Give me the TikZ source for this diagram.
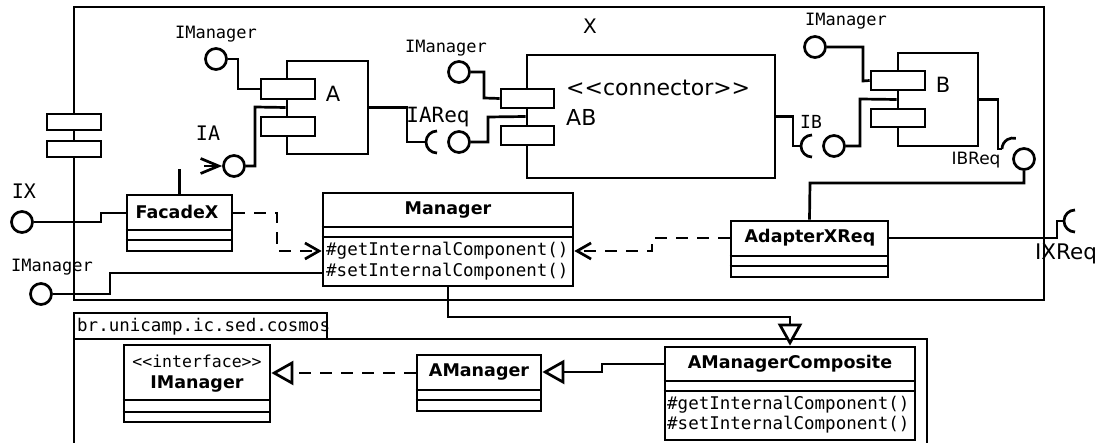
\documentclass[tikz,border=0pt]{standalone}
\usepackage{fontspec}
\setmainfont{DejaVu Sans}
\newfontfamily\umlmono{DejaVu Sans Mono}
\usetikzlibrary{arrows.meta,fit}

\tikzset{
  ln/.style={line width=2.7pt},
  dsh/.style={line width=2.7pt, dash pattern=on 12pt off 9pt},
  box/.style={draw, line width=2.7pt, fill=white, rectangle, inner sep=0pt},
  ball/.style={draw, line width=2.7pt, fill=white, circle, inner sep=0pt, minimum size=21pt},
  txt/.style={inner sep=0pt},
  lbl/.style={inner sep=0pt, font=\umlmono\fontsize{17}{19}\selectfont},
  big/.style={inner sep=0pt, font=\umlmono\fontsize{20}{22}\selectfont},
  cname/.style={inner sep=0pt, font=\bfseries\fontsize{17.5}{20}\selectfont},
  meth/.style={inner sep=0pt, anchor=west, font=\umlmono\fontsize{17.5}{20}\selectfont},
  dep/.style={-{Straight Barb[length=14pt,width=16pt]}},
  gen/.style={-{Triangle[length=22pt,width=24pt,fill=white]}},
}

\begin{document}
\begin{tikzpicture}[x=1pt,y=-1pt]
\useasboundingbox (0,0) rectangle (1101,443);
\fill[white] (0,0) rectangle (1101,443);
\clip (0,0) rectangle (1101,443);

% ---------- composite component X ----------
\node[box, fit={(74,7) (1044,300)}] (compX) {};
\node[txt, font=\fontsize{20}{22}\selectfont] (lblX) at (590,26) {X};
\node[box, fit={(47,114) (101,130)}] (portX1) {};
\node[box, fit={(47,141) (101,157)}] (portX2) {};

% ---------- component A ----------
\node[box, fit={(287,61) (368,154)}] (compA) {};
\node[box, fit={(261,79) (315,99)}] (portA1) {};
\node[box, fit={(261,117) (315,136)}] (portA2) {};
\node[txt, font=\fontsize{21}{24}\selectfont] (lblA) at (333,94) {A};

% ---------- connector AB ----------
\node[box, fit={(527,55) (775,178)}] (compAB) {};
\node[box, fit={(501,89) (554,108)}] (portAB1) {};
\node[box, fit={(501,126) (554,145)}] (portAB2) {};
\node[txt, anchor=west, font=\fontsize{22}{24}\selectfont] (lblConn) at (566,88) {<{}<connector>{}>};
\node[txt, anchor=west, font=\fontsize{22}{24}\selectfont] (lblAB) at (566,117) {AB};

% ---------- component B ----------
\node[box, fit={(898,53) (978,146)}] (compB) {};
\node[box, fit={(871,71) (925,90)}] (portB1) {};
\node[box, fit={(871,109) (925,127)}] (portB2) {};
\node[txt, font=\fontsize{21}{24}\selectfont] (lblB) at (943,85) {B};

% ---------- provided interfaces (balls) ----------
\node[ball] (ballImA) at (216,59) {};
\node[ball] (ballIA) at (234,166) {};
\node[ball] (ballImAB) at (459,72) {};
\node[ball] (ballIAReq) at (459,142) {};
\node[ball] (ballIB) at (834,146) {};
\node[ball] (ballImB) at (815,47) {};
\node[ball] (ballIBReq) at (1024,159) {};
\node[ball] (ballIX) at (22,222) {};
\node[ball] (ballImX) at (41,294) {};

% ---------- required interfaces (sockets) ----------
\coordinate (sockA) at (426,142);
\coordinate (sockAB) at (801,146);
\coordinate (sockB) at (1002,149);
\coordinate (sockX) at (1064,221);
\draw[ln] (sockA) ++(11,11) arc[start angle=90, end angle=270, radius=11];
\draw[ln] (sockAB) ++(11,11) arc[start angle=90, end angle=270, radius=11];
\draw[ln] (sockB) arc[start angle=180, end angle=285, radius=11];
\draw[ln] (sockX) ++(11,11) arc[start angle=90, end angle=270, radius=11];

% ---------- wiring inside X ----------
\draw[ln] (ballImA.east) -| (238,89) -- (portA1.west);
\draw[ln] (ballIA.east) -| (255,107) -- (compA.west);
\draw[ln] (compA.east) -| (407,142) -- (sockA);
\draw[ln] (ballImAB.east) -| (484,98) -- (portAB1.west);
\draw[ln] (ballIAReq.east) -| (488,117) -- (compAB.west);
\draw[ln] (compAB.east) -| (793,146) -- (sockAB);
\draw[ln] (ballIB.east) -| (860,99) -- (compB.west);
\draw[ln] (ballImB.east) -| (863,81) -- (portB1.west);
\draw[ln] (compB.east) -| (998,149) -- (sockB);

% ---------- interface labels ----------
\node[lbl] (lblImA) at (216,34) {IManager};
\node[big] (lblIA) at (208,133) {IA};
\node[lbl] (lblImAB) at (446,48) {IManager};
\node[txt, font=\umlmono\fontsize{21}{23}\selectfont] (lblIAReq) at (438,117) {IAReq};
\node[txt, font=\umlmono\fontsize{18}{20}\selectfont] (lblIB) at (811,122) {IB};
\node[lbl] (lblImB) at (846,21) {IManager};
\node[txt, font=\fontsize{17}{19}\selectfont] (lblIBReq) at (976,160) {IBReq};
\node[big] (lblIX) at (24,191) {IX};
\node[lbl] (lblImX) at (52,267) {IManager};
\node[txt, font=\fontsize{21.5}{23}\selectfont] (lblIXReq) at (1066,254) {IXReq};

% ---------- classes inside X ----------
\node[box, fit={(127,195) (232,251)}] (facade) {};
\draw[ln] (facade.west |- 0,230) -- (facade.east |- 0,230);
\draw[ln] (facade.west |- 0,240) -- (facade.east |- 0,240);
\node[cname] (nFacade) at (177,212) {FacadeX};

\node[box, fit={(323,193) (573,286)}] (manager) {};
\draw[ln] (manager.west |- 0,227) -- (manager.east |- 0,227);
\draw[ln] (manager.west |- 0,237) -- (manager.east |- 0,237);
\node[cname] (nManager) at (448,210) {Manager};
\node[meth] (mGet) at (326,251) {\#getInternalComponent()};
\node[meth] (mSet) at (326,272) {\#setInternalComponent()};

\node[box, fit={(731,221) (888,277)}] (adapter) {};
\draw[ln] (adapter.west |- 0,256) -- (adapter.east |- 0,256);
\draw[ln] (adapter.west |- 0,266) -- (adapter.east |- 0,266);
\node[cname] (nAdapter) at (810,238) {AdapterXReq};

% ---------- connections of the classes ----------
\coordinate (stubEnd) at (180,169);
\coordinate (iaTail) at (204,166);
\draw[ln] (facade.north) -- (facade.north |- stubEnd);
\draw[ln, -{Straight Barb[length=18pt,width=15pt]}] (iaTail) -- (ballIA.west);
\draw[ln] (ballIX.east) -| (101,213) -- (facade.west |- 0,213);
\draw[ln] (ballImX.east) -| (110,273) -- (manager.west |- 0,273);
\draw[dsh, dep] (facade.east |- 0,213) -| (277,251) -- (manager.west |- 0,251);
\draw[dsh, dep] (adapter.west |- 0,238) -| (652,251) -- (manager.east |- 0,251);
\draw[ln] (ballIBReq.south) |- (810,183) -- (adapter.north);
\draw[ln] (adapter.east |- 0,238) -| (1057,221) -- (sockX);

% ---------- package br.unicamp.ic.sed.cosmos ----------
\node[box, fill=none, fit={(74,339) (927,470)}] (pkgBody) {};
\node[box, fit={(74,313) (327,339)}] (pkgTab) {};
\node[txt, anchor=west, font=\umlmono\fontsize{17.5}{19}\selectfont] (pkgName) at (77,327) {br.unicamp.ic.sed.cosmos};

\node[box, fit={(124,345) (270,422)}] (imanager) {};
\draw[ln] (imanager.west |- 0,400) -- (imanager.east |- 0,400);
\draw[ln] (imanager.west |- 0,412) -- (imanager.east |- 0,412);
\node[txt, font=\umlmono\fontsize{16.5}{18}\selectfont] (stIManager) at (197,361) {<{}<interface>{}>};
\node[cname] (nIManager) at (197,384) {IManager};

\node[box, fit={(417,355) (541,411)}] (amanager) {};
\draw[ln] (amanager.west |- 0,390) -- (amanager.east |- 0,390);
\draw[ln] (amanager.west |- 0,400) -- (amanager.east |- 0,400);
\node[cname] (nAManager) at (479,372) {AManager};

\node[box, fit={(665,347) (915,440)}] (amc) {};
\draw[ln] (amc.west |- 0,381) -- (amc.east |- 0,381);
\draw[ln] (amc.west |- 0,391) -- (amc.east |- 0,391);
\node[cname] (nAMC) at (790,364) {AManagerComposite};
\node[meth] (cGet) at (667,405) {\#getInternalComponent()};
\node[meth] (cSet) at (667,425) {\#setInternalComponent()};

% ---------- realization and generalizations ----------
\draw[dsh, gen] (amanager.west |- 0,373) -- (imanager.east |- 0,373);
\draw[ln, gen] (amc.west |- 0,364) -| (602,372) -- (amanager.east |- 0,372);
\draw[ln, gen] (manager.south) |- (790,317) -- (amc.north);
\end{tikzpicture}
\end{document}
